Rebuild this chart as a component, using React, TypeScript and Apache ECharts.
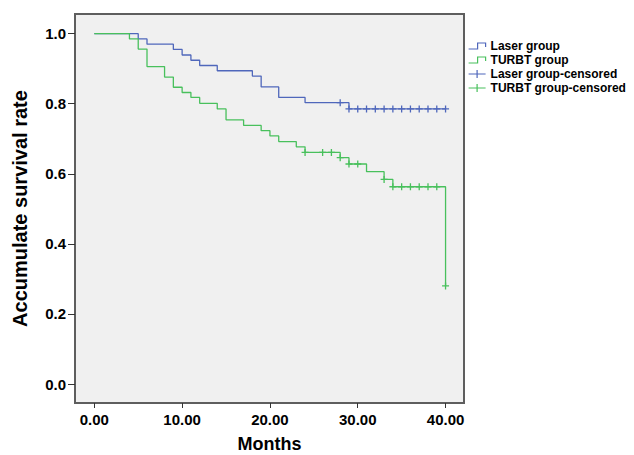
import React, { useEffect, useRef } from "react";
import * as echarts from "echarts";

// Kaplan-Meier step data (event times and survival after each event)
const laserTimes = [0, 5, 6, 9, 10, 11, 12, 14, 18, 19, 21, 24, 29, 40];
const laserSurv = [1.0, 0.985, 0.97, 0.955, 0.939, 0.924, 0.909, 0.894, 0.879, 0.848, 0.818, 0.803, 0.785, 0.785];
const turbtTimes = [0, 4, 5, 6, 8, 9, 10, 11, 12, 14, 15, 17, 19, 20, 21, 23, 24, 28, 29, 31, 33, 34, 40, 40];
const turbtSurv = [1.0, 0.985, 0.956, 0.906, 0.876, 0.847, 0.832, 0.818, 0.801, 0.785, 0.754, 0.738, 0.723, 0.708, 0.692, 0.677, 0.661, 0.646, 0.628, 0.606, 0.584, 0.563, 0.563, 0.28];

// Censored observations
const laserCensTimes = [28, 29, 30, 31, 32, 33, 34, 35, 36, 37, 38, 39, 40];
const laserCensSurv = [0.803, 0.785, 0.785, 0.785, 0.785, 0.785, 0.785, 0.785, 0.785, 0.785, 0.785, 0.785, 0.785];
const turbtCensTimes = [24, 26, 27, 28, 29, 30, 33, 34, 35, 36, 37, 38, 39, 40];
const turbtCensSurv = [0.661, 0.661, 0.661, 0.646, 0.628, 0.628, 0.584, 0.563, 0.563, 0.563, 0.563, 0.563, 0.563, 0.28];

const xTicks = [0, 10, 20, 30, 40];
const yTicks = [0, 0.2, 0.4, 0.6, 0.8, 1.0];

const seriesNames = ["Laser group", "TURBT group", "Laser group-censored", "TURBT group-censored"];

const BLUE = "#4f67bb";
const GREEN = "#48c05c";
const FONT = "'Liberation Sans', Arial, Helvetica, sans-serif";

const zip = (a: number[], b: number[]) => a.map((v, i) => [v, b[i]]);

const stepIcon = "path://M0,8 L9,8 L9,2 L17,2 L17,6";
const plusIcon = "path://M0,5 L17,5 M8.5,1 L8.5,9";
const censorSymbol = "path://M0,5 L10,5 M5,0 L5,10";

export default function App() {
  const ref = useRef<HTMLDivElement>(null);
  useEffect(() => {
    if (!ref.current) return;
    const chart = echarts.init(ref.current, null, { renderer: "svg" });
    chart.setOption({
      animation: false,
      backgroundColor: "#ffffff",
      grid: {
        left: 75,
        right: 170,
        top: 14,
        bottom: 52,
        containLabel: false,
        outerBoundsMode: "none",
        show: true,
        backgroundColor: "#f0f0f0",
        borderColor: "#5e5e5e",
        borderWidth: 2,
      },
      legend: {
        orient: "vertical",
        left: 468,
        top: 40,
        padding: 0,
        itemWidth: 17,
        itemHeight: 10,
        itemGap: 2,
        textStyle: { fontFamily: FONT, fontWeight: "bold", fontSize: 12, color: "#000" },
        data: [
          { name: seriesNames[0], icon: stepIcon, itemStyle: { color: "transparent", borderColor: BLUE, borderWidth: 1.2 } },
          { name: seriesNames[1], icon: stepIcon, itemStyle: { color: "transparent", borderColor: GREEN, borderWidth: 1.2 } },
          { name: seriesNames[2], icon: plusIcon, itemStyle: { color: "transparent", borderColor: BLUE, borderWidth: 1.2 } },
          { name: seriesNames[3], icon: plusIcon, itemStyle: { color: "transparent", borderColor: GREEN, borderWidth: 1.2 } },
        ],
      },
      xAxis: {
        type: "value",
        min: -2.2,
        max: 42.1,
        name: "Months",
        nameLocation: "middle",
        nameGap: 32,
        nameTextStyle: { fontFamily: FONT, fontWeight: "bold", fontSize: 18, color: "#000" },
        axisLine: { show: false, onZero: false },
        splitLine: { show: false },
        axisTick: { show: true, inside: false, length: 5, customValues: xTicks, lineStyle: { color: "#333" } },
        axisLabel: {
          customValues: xTicks,
          margin: 9,
          fontFamily: FONT,
          fontWeight: "bold",
          fontSize: 15,
          color: "#000",
          formatter: (v: number) => v.toFixed(2),
        },
      },
      yAxis: {
        type: "value",
        min: -0.054,
        max: 1.056,
        name: "Accumulate survival rate",
        nameLocation: "middle",
        nameGap: 45,
        nameTextStyle: { fontFamily: FONT, fontWeight: "bold", fontSize: 20, color: "#000" },
        axisLine: { show: false, onZero: false },
        splitLine: { show: false },
        axisTick: { show: true, inside: false, length: 7, customValues: yTicks, lineStyle: { color: "#333" } },
        axisLabel: {
          customValues: yTicks,
          margin: 9,
          fontFamily: FONT,
          fontWeight: "bold",
          fontSize: 15,
          color: "#000",
          formatter: (v: number) => v.toFixed(1),
        },
      },
      series: [
        {
          name: seriesNames[0],
          type: "line",
          step: "end",
          data: zip(laserTimes, laserSurv),
          showSymbol: false,
          symbol: "none",
          color: BLUE,
          lineStyle: { color: BLUE, width: 1.3 },
        },
        {
          name: seriesNames[1],
          type: "line",
          step: "end",
          data: zip(turbtTimes, turbtSurv),
          showSymbol: false,
          symbol: "none",
          color: GREEN,
          lineStyle: { color: GREEN, width: 1.3 },
        },
        {
          name: seriesNames[2],
          type: "scatter",
          data: zip(laserCensTimes, laserCensSurv),
          symbol: censorSymbol,
          symbolSize: 7,
          itemStyle: { color: "transparent", borderColor: BLUE, borderWidth: 1.3, opacity: 1 },
        },
        {
          name: seriesNames[3],
          type: "scatter",
          data: zip(turbtCensTimes, turbtCensSurv),
          symbol: censorSymbol,
          symbolSize: 7,
          itemStyle: { color: "transparent", borderColor: GREEN, borderWidth: 1.3, opacity: 1 },
        },
      ],
    });
    return () => chart.dispose();
  }, []);
  return (
    <div
      ref={ref}
      style={{ position: "fixed", left: 0, top: 0, width: 634, height: 455 }}
    />
  );
}
